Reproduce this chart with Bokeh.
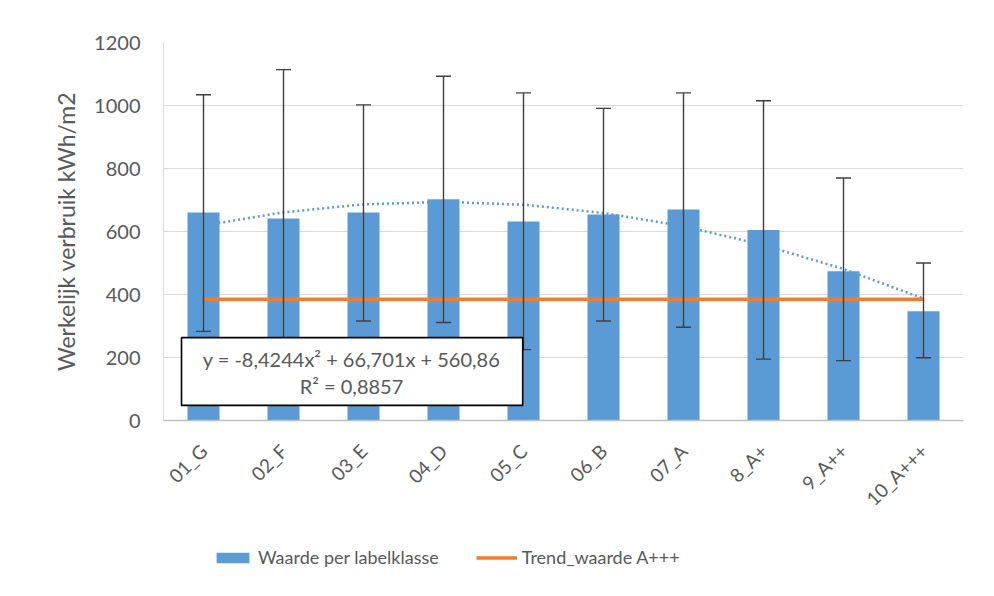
from math import pi
from bokeh.plotting import figure
from bokeh.layouts import column
from bokeh.models import (ColumnDataSource, FactorRange, Range1d, FixedTicker, Whisker,
                          TeeHead, Legend, LegendItem, BoxAnnotation, Label)
from bokeh.embed import file_html
from bokeh.resources import INLINE

# ---- data ----
categories = ["01_G", "02_F", "03_E", "04_D", "05_C", "06_B", "07_A", "8_A+", "9_A++", "10_A+++"]
values = [660, 641, 660, 702, 632, 654, 670, 605, 474, 347]
err_upper = [1034, 1114, 1002, 1093, 1040, 991, 1040, 1015, 770, 500]
err_lower = [283, 168, 316, 311, 225, 316, 296, 195, 190, 199]
trend_a = [385, 385, 385, 385, 385, 385, 385, 385, 385, 385]
poly_trend = [619, 661, 686, 694, 685, 659, 617, 557, 481, 387]
y_ticks = [0, 200, 400, 600, 800, 1000, 1200]
eq_text = "y = -8,4244x\u00b2 + 66,701x + 560,86"
r2_text = "R\u00b2 = 0,8857"
legend_labels = ["Waarde per labelklasse", "Trend_waarde A+++"]

FONT = "Lato"
GREY = "#595959"
BLUE = "#5B9BD5"
ORANGE = "#ED7D31"
WHISK = "#3f3f3f"

src = ColumnDataSource(dict(cat=categories, val=values, up=err_upper, lo=err_lower,
                            tr=trend_a, poly=poly_trend))

p = figure(width=978, height=520, x_range=FactorRange(*categories, range_padding=0),
           y_range=Range1d(0, 1200), output_backend="svg", toolbar_location=None,
           min_border_left=163, min_border_right=15, min_border_top=42, min_border_bottom=100)
p.outline_line_color = None

# polynomial trendline (behind bars)
p.line("cat", "poly", source=src, line_color=BLUE, line_width=2.5, line_dash="2 3")

bars = p.vbar(x="cat", top="val", width=0.4, source=src, fill_color=BLUE, line_color=None)

wh = Whisker(base="cat", upper="up", lower="lo", source=src, level="annotation",
             line_color=WHISK, line_width=1.4,
             upper_head=TeeHead(size=15, line_color=WHISK, line_width=1.4),
             lower_head=TeeHead(size=15, line_color=WHISK, line_width=1.4))
p.add_layout(wh)

trend = p.line("cat", "tr", source=src, line_color=ORANGE, line_width=3.5)

# equation box
box = BoxAnnotation(left=0.225, right=4.49, bottom=48, top=263, fill_color="white",
                    fill_alpha=1.0, line_color="black", line_alpha=1.0, line_width=1.6,
                    level="overlay")
p.add_layout(box)
p.add_layout(Label(x=2.35, y=196, text=eq_text, text_align="center", text_baseline="middle",
                   text_font=FONT, text_font_size="20px", text_color=GREY, level="overlay"))
p.add_layout(Label(x=2.35, y=111, text=r2_text, text_align="center", text_baseline="middle",
                   text_font=FONT, text_font_size="20px", text_color=GREY, level="overlay"))

# axes
p.yaxis.ticker = FixedTicker(ticks=y_ticks)
p.yaxis.axis_label = "Werkelijk verbruik kWh/m2"
p.yaxis.axis_label_text_font = FONT
p.yaxis.axis_label_text_font_style = "normal"
p.yaxis.axis_label_text_font_size = "23px"
p.yaxis.axis_label_text_color = GREY
p.yaxis.axis_label_standoff = 11
p.yaxis.axis_line_color = "#d9d9d9"
for ax in (p.xaxis[0], p.yaxis[0]):
    ax.major_tick_line_color = None
    ax.minor_tick_line_color = None
    ax.major_tick_out = 0
    ax.major_tick_in = 0
    ax.major_label_text_font = FONT
    ax.major_label_text_color = GREY
p.yaxis.major_label_text_font_size = "20px"
p.yaxis.major_label_standoff = 23
p.xaxis.major_label_text_font_size = "19px"
p.xaxis.major_label_orientation = pi / 4
p.xaxis.major_label_standoff = 27
p.xaxis.axis_line_color = "#bfbfbf"
p.xaxis.axis_line_width = 1.5

p.xgrid.grid_line_color = None
p.ygrid.grid_line_color = "#d9d9d9"
p.ygrid.grid_line_width = 1.2

# legend in its own strip below the chart (frames are aligned by the column layout);
# the same series are drawn there but fall outside its visible y range
lg = figure(width=978, height=60, output_backend="svg", toolbar_location=None,
            min_border=0, x_range=p.x_range, y_range=Range1d(5000, 6000))
lg.axis.visible = False
lg.grid.grid_line_color = None
lg.outline_line_color = None
lg_bar = lg.vbar(x="cat", top="val", width=0.4, source=src, fill_color=BLUE, line_color=None)
lg_line = lg.line("cat", "tr", source=src, line_color=ORANGE, line_width=3.5)
legend = Legend(items=[LegendItem(label=legend_labels[0], renderers=[lg_bar]),
                       LegendItem(label=legend_labels[1], renderers=[lg_line])],
                orientation="horizontal", location=(49, 12), padding=0, margin=0,
                spacing=37, label_standoff=5, glyph_width=41, glyph_height=13,
                label_text_font=FONT, label_text_font_size="18px", label_text_color=GREY,
                background_fill_alpha=0, border_line_alpha=0)
lg.add_layout(legend, "center")

layout = column(p, lg, spacing=0)
open("out.html", "w").write(file_html(layout, INLINE))
